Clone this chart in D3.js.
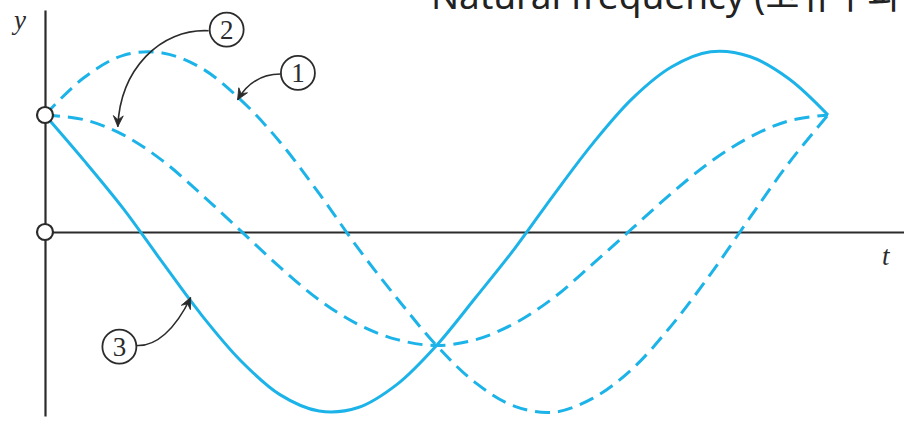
<!DOCTYPE html>
<html>
<head>
<meta charset="utf-8">
<script src="https://cdn.jsdelivr.net/npm/d3@7"></script>
<style>
  body { margin: 0; background: #fff; }
  svg { display: block; }
</style>
</head>
<body>
<div id="chart-area"></div>
<script>
const width = 904;
const height = 426;

// time in periods, displacement in units of y(0)
const tValues = [0, 0.05, 0.1, 0.15, 0.2, 0.25, 0.3, 0.35, 0.4, 0.45, 0.5,
                 0.55, 0.6, 0.65, 0.7, 0.75, 0.8, 0.85, 0.9, 0.95, 1];
const curve1 = [1.0, 1.32, 1.51, 1.53, 1.40, 1.13, 0.77, 0.33, -0.14, -0.57, -0.97,
                -1.29, -1.49, -1.54, -1.42, -1.17, -0.80, -0.36, 0.12, 0.59, 1.0];
const curve2 = [1.0, 0.96, 0.83, 0.61, 0.32, 0.01, -0.30, -0.58, -0.79, -0.92, -0.97,
                -0.92, -0.78, -0.56, -0.27, 0.03, 0.33, 0.60, 0.81, 0.95, 1.0];
const curve3 = [1.0, 0.61, 0.20, -0.26, -0.71, -1.10, -1.39, -1.53, -1.50, -1.30, -0.97,
                -0.56, -0.14, 0.32, 0.76, 1.14, 1.41, 1.54, 1.50, 1.31, 1.0];
const seriesNames = ["1", "2", "3"];
const title = "Natural frequency (고유주파수)";

const svg = d3.select("#chart-area")
  .append("svg")
  .attr("width", width)
  .attr("height", height);

// scales
const x = d3.scaleLinear().domain([0, 1]).range([45, 828]);
const y = d3.scaleLinear().domain([0, 1]).range([232, 115]);

const blue = "#1cb3e8";
const ink = "#2b2b2b";

// axes (no ticks)
const xAxis = d3.axisBottom(x.copy().domain([0, 1.097]).range([45, 904])).tickValues([]).tickSizeOuter(0);
const yAxis = d3.axisLeft(y.copy().domain([-1.57, 1.9]).range([416, 10])).tickValues([]).tickSizeOuter(0);

svg.append("g").attr("transform", `translate(0,${y(0)})`).call(xAxis)
  .select(".domain").attr("stroke", ink).attr("stroke-width", 2.2);
svg.append("g").attr("transform", `translate(${x(0)},0)`).call(yAxis)
  .select(".domain").attr("stroke", ink).attr("stroke-width", 2.2);

// curves
const line = d3.line()
  .x((d, i) => x(tValues[i]))
  .y(d => y(d))
  .curve(d3.curveCatmullRom.alpha(0.5));

const series = [
  {vals: curve1, dash: "15,8"},
  {vals: curve2, dash: "15,8"},
  {vals: curve3, dash: null}
];

svg.selectAll("path.curve").data(series).enter().append("path")
  .attr("class", "curve")
  .attr("d", d => line(d.vals))
  .attr("fill", "none")
  .attr("stroke", blue)
  .attr("stroke-width", 3)
  .attr("stroke-dasharray", d => d.dash);

// open circles on y axis
svg.selectAll("circle.pt").data([1, 0]).enter().append("circle")
  .attr("class", "pt")
  .attr("cx", x(0))
  .attr("cy", d => y(d))
  .attr("r", 8)
  .attr("fill", "#fff")
  .attr("stroke", ink)
  .attr("stroke-width", 2.2);

// axis labels
svg.append("text")
  .attr("x", 14).attr("y", 29)
  .attr("font-family", "'Liberation Serif', 'DejaVu Serif', serif")
  .attr("font-style", "italic")
  .attr("font-size", 27)
  .attr("fill", ink)
  .text("y");

svg.append("text")
  .attr("x", 882).attr("y", 265)
  .attr("font-family", "'Liberation Serif', 'DejaVu Serif', serif")
  .attr("font-style", "italic")
  .attr("font-size", 27)
  .attr("fill", ink)
  .text("t");

// title (cut by the top edge, as in the source)
svg.append("text")
  .attr("x", 431).attr("y", 9)
  .attr("font-family", "'Noto Sans', 'Noto Sans CJK KR', sans-serif")
  .attr("font-size", 37)
  .attr("fill", "#222")
  .text(title);

// callouts: circle centre, arrow path (in data units)
const callouts = [
  {label: seriesNames[0], c: [0.323, 1.36], p: [[0.301, 1.35], [0.277, 1.35], [0.259, 1.28], [0.246, 1.13]]},
  {label: seriesNames[1], c: [0.232, 1.73], p: [[0.209, 1.72], [0.147, 1.74], [0.096, 1.39], [0.093, 0.90]]},
  {label: seriesNames[2], c: [0.095, -0.98], p: [[0.117, -0.97], [0.141, -0.98], [0.166, -0.84], [0.186, -0.56]]}
];

const defs = svg.append("defs");
defs.append("marker")
  .attr("id", "arrow")
  .attr("viewBox", "-12 -6 14 12")
  .attr("markerWidth", 14).attr("markerHeight", 12)
  .attr("markerUnits", "userSpaceOnUse")
  .attr("orient", "auto")
  .append("path")
  .attr("d", "M-11,-5 L0,0 L-11,5 L-7,0 Z")
  .attr("fill", ink)
  .attr("stroke", ink)
  .attr("stroke-width", 0.8);

const call = svg.selectAll("g.callout").data(callouts).enter().append("g").attr("class", "callout");

call.append("path")
  .attr("d", d => {
    const p = d.p.map(q => [x(q[0]), y(q[1])]);
    return `M${p[0]}C${p[1]} ${p[2]} ${p[3]}`;
  })
  .attr("fill", "none")
  .attr("stroke", ink)
  .attr("stroke-width", 1.6)
  .attr("marker-end", "url(#arrow)");

call.append("circle")
  .attr("cx", d => x(d.c[0]))
  .attr("cy", d => y(d.c[1]))
  .attr("r", 17)
  .attr("fill", "#fff")
  .attr("stroke", ink)
  .attr("stroke-width", 1.8);

call.append("text")
  .attr("x", d => x(d.c[0]))
  .attr("y", d => y(d.c[1]) + 9)
  .attr("text-anchor", "middle")
  .attr("font-family", "'Liberation Serif', 'DejaVu Serif', serif")
  .attr("font-size", 27)
  .attr("fill", ink)
  .text(d => d.label);
</script>
</body>
</html>
